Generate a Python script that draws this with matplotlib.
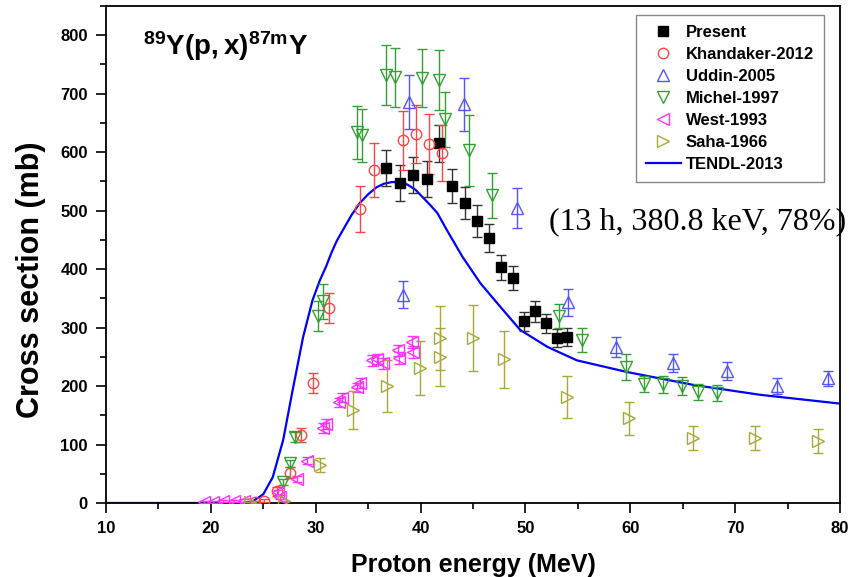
import matplotlib
matplotlib.use("Agg")
import matplotlib.pyplot as plt
from matplotlib.ticker import MultipleLocator
from matplotlib.lines import Line2D

plt.rcParams['font.family'] = ['Liberation Sans', 'DejaVu Sans']
plt.rcParams['mathtext.fontset'] = 'custom'
plt.rcParams['mathtext.bf'] = 'Liberation Sans:bold'
plt.rcParams['mathtext.rm'] = 'Liberation Sans:bold'

# ---- data ----
present_x = [36.7, 38.0, 39.3, 40.6, 41.8, 43.0, 44.2, 45.4, 46.5, 47.7, 48.8, 49.9, 50.9, 52.0, 53.0, 54.0]
present_y = [573, 547, 561, 554, 615, 542, 513, 482, 454, 403, 385, 311, 328, 307, 282, 284]
present_e = [31, 31, 31, 31, 32, 29, 28, 27, 24, 21, 21, 16, 18, 17, 16, 15]

khan_x = [24.2, 25.1, 26.3, 27.5, 28.6, 29.7, 31.3, 34.2, 35.6, 38.3, 39.6, 40.8, 42.0]
khan_y = [2, 4, 20, 52, 116, 205, 333, 503, 569, 620, 631, 614, 598]
khan_e = [2, 3, 8, 10, 12, 17, 26, 40, 46, 50, 50, 51, 48]

uddin_x = [38.3, 38.9, 44.1, 49.2, 54.1, 58.6, 64.1, 69.2, 74.0, 78.9]
uddin_y = [356, 686, 682, 504, 343, 267, 239, 226, 200, 213]
uddin_e = [23, 46, 45, 34, 23, 17, 15, 15, 13, 13]

michel_x = [26.9, 27.5, 28.0, 30.2, 30.7, 33.9, 34.4, 36.7, 37.6, 40.1, 41.8, 42.3, 44.6, 46.8,
            53.2, 55.4, 59.6, 61.3, 63.1, 64.9, 66.5, 68.3]
michel_y = [36, 68, 113, 320, 345, 634, 629, 732, 728, 727, 723, 656, 603, 526,
            320, 279, 233, 203, 203, 200, 190, 188]
michel_e = [5, 6, 8, 25, 30, 45, 45, 51, 50, 50, 51, 47, 60, 38,
            21, 20, 22, 14, 15, 15, 13, 14]

west_x = [19.3, 20.2, 21.2, 22.2, 23.2, 26.4, 26.6, 28.2, 29.2, 30.7, 31.0, 32.2, 32.5,
          33.9, 34.2, 35.4, 35.8, 36.4, 37.8, 37.9, 39.2, 39.3]
west_y = [2, 2, 3, 3, 4, 18, 10, 41, 72, 128, 135, 172, 180,
          198, 205, 244, 246, 239, 261, 248, 275, 258]
west_e = [2, 2, 2, 2, 2, 4, 3, 5, 6, 8, 8, 8, 8, 8, 8, 9, 9, 9, 10, 10, 10, 10]

saha_x = [23.7, 27.0, 30.4, 33.6, 36.8, 39.9, 41.9, 41.9, 45.0, 48.0, 54.0, 59.9, 66.0, 71.9, 77.9]
saha_y = [2, 3, 65, 159, 200, 231, 282, 250, 282, 246, 181, 145, 111, 111, 106]
saha_e = [0, 0, 12, 32, 44, 46, 55, 50, 56, 49, 36, 28, 21, 21, 20]

tendl_x = [10, 23.0, 24.0, 25.0, 25.9, 26.9, 27.8, 28.8, 29.7, 30.4, 31.0, 31.5, 32.0, 32.6,
           33.4, 34.2, 35.0, 35.8, 36.5, 37.3, 38.0, 38.7, 39.5, 40.2, 40.9, 41.6, 42.5,
           44.0, 45.7, 47.3, 49.5, 52.1, 54.9, 59.7, 66.0, 72.4, 80.0]
tendl_y = [0, 0, 3, 15, 44, 108, 193, 284, 347, 381, 405, 428, 448, 467,
           492, 513, 528, 540, 546, 549, 548, 545, 536, 523, 510, 496, 467,
           421, 376, 342, 296, 267, 244, 224, 202, 185, 170]

x_ticks = [10, 20, 30, 40, 50, 60, 70, 80]
y_ticks = [0, 100, 200, 300, 400, 500, 600, 700, 800]

# ---- figure ----
fig = plt.figure(figsize=(8.5, 5.77), dpi=100)
ax = fig.add_axes([106/850, 1-503/577, 734/850, 497/577])

ax.plot(tendl_x, tendl_y, color='#0000ff', lw=1.6, zorder=2)

styles = {}
def series(x, y, e, marker, color, label, ms, filled=False, ecolor=None):
    ax.errorbar(x, y, yerr=e, fmt=marker, ms=ms,
                mfc=color if filled else 'none', mec=color, mew=1.0,
                ecolor=ecolor or color, elinewidth=1.0, capsize=3.5, capthick=1.0,
                zorder=3)
    styles[label] = Line2D([], [], ls='none', marker=marker, ms=ms,
                           mfc=color if filled else 'none', mec=color, mew=1.0)

series(present_x, present_y, present_e, 's', 'black', 'Present', 7, filled=True, ecolor='#333333')
series(khan_x, khan_y, khan_e, 'o', '#ff4444', 'Khandaker-2012', 7.5)
series(uddin_x, uddin_y, uddin_e, '^', '#5555ff', 'Uddin-2005', 8.5)
series(michel_x, michel_y, michel_e, 'v', '#33a033', 'Michel-1997', 8.5)
series(west_x, west_y, west_e, '<', '#ff33ff', 'West-1993', 8)
series(saha_x, saha_y, saha_e, '>', '#a8a83a', 'Saha-1966', 8.5)
styles['TENDL-2013'] = Line2D([], [], color='#0000ff', lw=1.6)

ax.set_xlim(10, 80)
ax.set_ylim(0, 850)
ax.set_xticks(x_ticks)
ax.set_yticks(y_ticks)
ax.xaxis.set_minor_locator(MultipleLocator(5))
ax.yaxis.set_minor_locator(MultipleLocator(50))
ax.tick_params(which='major', direction='out', length=7, width=1.2, labelsize=12, pad=6)
ax.tick_params(which='minor', direction='out', length=4, width=1.2)
for lab in ax.get_xticklabels() + ax.get_yticklabels():
    lab.set_fontweight('bold')
for s in ax.spines.values():
    s.set_linewidth(1.3)

ax.set_xlabel('Proton energy (MeV)', fontsize=18, fontweight='bold', labelpad=12)
ax.set_ylabel('Cross section (mb)', fontsize=22, fontweight='bold')
ax.yaxis.set_label_coords(-0.082, 0.45)

ax.text(13.5, 766, r'$\mathbf{^{89}Y(p,x)^{87m}Y}$', fontsize=20, ha='left', va='baseline')
ax.text(0.603, 0.55, '(13 h, 380.8 keV, 78%)', transform=ax.transAxes,
        family=['Liberation Serif', 'DejaVu Serif'], fontsize=23, ha='left', va='baseline',
        clip_on=False)

order = ['Present', 'Khandaker-2012', 'Uddin-2005', 'Michel-1997', 'West-1993', 'Saha-1966', 'TENDL-2013']
leg = ax.legend([styles[k] for k in order], order, loc='upper right',
                bbox_to_anchor=(0.978, 0.982), borderaxespad=0, fancybox=False,
                edgecolor='#888888', framealpha=1, handlelength=2.1, handletextpad=0.3,
                labelspacing=0.42, borderpad=0.6,
                prop={'weight': 'bold', 'size': 12})
leg.get_frame().set_linewidth(1.0)

fig.savefig('out.png', dpi=100)
